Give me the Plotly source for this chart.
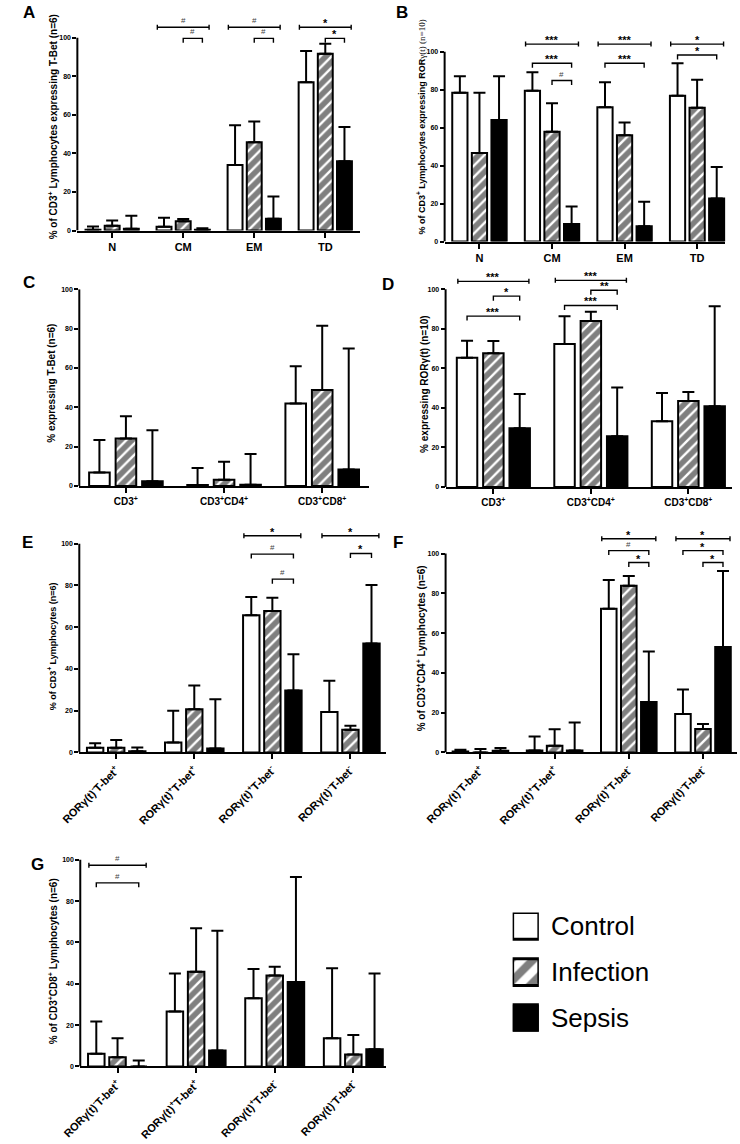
import plotly.graph_objects as go

W, H = 740, 1144
FONT = "Liberation Sans, Arial, sans-serif"

groups = ["Control", "Infection", "Sepsis"]

# ---------------- Panel A ----------------
a_categories = ["N", "CM", "EM", "TD"]
a_control = [0.5, 2.0, 34.0, 77.0]
a_control_top = [2.1, 6.7, 54.6, 93.1]
a_infection = [2.5, 4.8, 45.8, 91.7]
a_infection_top = [5.2, 6.0, 56.6, 96.9]
a_sepsis = [1.0, 0.5, 6.2, 36.0]
a_sepsis_top = [7.7, 1.2, 17.7, 53.7]
a_significance = [(1, 0, 2, "#", 105.5, "span"), (1, 1, 2, "#", 99.7, "pair"),
                  (2, 0, 2, "#", 105.5, "span"), (2, 1, 2, "#", 99.7, "pair"),
                  (3, 0, 2, "*", 105.5, "span"), (3, 1, 2, "*", 99.7, "pair")]
a_title = "<b>% of CD3<sup>+</sup> Lymphocytes expressing T-Bet (n=6)</b>"

# ---------------- Panel B ----------------
b_categories = ["N", "CM", "EM", "TD"]
b_control = [78.4, 79.4, 70.7, 76.8]
b_control_top = [87.1, 89.2, 83.9, 93.9]
b_infection = [46.6, 57.8, 56.0, 70.5]
b_infection_top = [78.4, 72.8, 62.7, 85.2]
b_sepsis = [64.0, 9.2, 8.0, 22.7]
b_sepsis_top = [87.1, 18.5, 20.9, 39.3]
b_significance = [(1, 0, 2, "***", 104.0, "span"), (1, 0, 2, "***", 93.9, "pair"),
                  (1, 1, 2, "#", 84.8, "pair"),
                  (2, 0, 2, "***", 104.0, "span"), (2, 0, 2, "***", 93.9, "pair"),
                  (3, 0, 2, "*", 104.0, "span"), (3, 0, 2, "*", 98.3, "pair")]
b_title = ("<b>% of CD3<sup>+</sup> Lymphocytes expressing ROR</b>"
           "<span style='font-family:Liberation Serif;font-weight:normal'>γ(t) (n=10)</span>")

# ---------------- Panel C ----------------
c_categories = ["CD3<sup>+</sup>", "CD3<sup>+</sup>CD4<sup>+</sup>", "CD3<sup>+</sup>CD8<sup>+</sup>"]
c_control = [6.9, 0.5, 41.9]
c_control_top = [23.4, 9.1, 60.9]
c_infection = [24.2, 3.2, 48.8]
c_infection_top = [35.5, 12.3, 81.5]
c_sepsis = [2.4, 0.7, 8.4]
c_sepsis_top = [28.3, 16.3, 69.9]
c_significance = []
c_title = "<b>% expressing T-Bet (n=6)</b>"

# ---------------- Panel D ----------------
d_categories = ["CD3<sup>+</sup>", "CD3<sup>+</sup>CD4<sup>+</sup>", "CD3<sup>+</sup>CD8<sup>+</sup>"]
d_control = [65.4, 72.3, 33.2]
d_control_top = [74.0, 86.4, 47.5]
d_infection = [67.6, 83.9, 43.5]
d_infection_top = [73.8, 88.6, 48.0]
d_sepsis = [29.7, 25.7, 40.9]
d_sepsis_top = [47.1, 50.3, 91.4]
d_significance = [(0, 0, 2, "***", 104.0, "span"), (0, 1, 2, "*", 96.5, "pair"),
                  (0, 0, 2, "***", 86.4, "pair"),
                  (1, 0, 2, "***", 104.5, "span"), (1, 1, 2, "**", 99.5, "pair"),
                  (1, 0, 2, "***", 91.8, "pair")]
d_title = "<b>% expressing RORγ(t) (n=10)</b>"

# ---------------- Panel E ----------------
efg_categories = ["RORγ(t)<sup>-</sup>T-bet<sup>+</sup>", "RORγ(t)<sup>+</sup>T-bet<sup>+</sup>",
                  "RORγ(t)<sup>+</sup>T-bet<sup>-</sup>", "RORγ(t)<sup>-</sup>T-bet<sup>-</sup>"]
e_control = [2.2, 4.7, 65.7, 19.3]
e_control_top = [4.4, 19.9, 74.5, 34.3]
e_infection = [2.2, 20.7, 67.7, 10.8]
e_infection_top = [5.9, 32.0, 74.1, 12.8]
e_sepsis = [0.6, 1.9, 29.7, 52.2]
e_sepsis_top = [2.4, 25.5, 47.0, 80.2]
e_significance = [(2, 0, 2, "*", 103.8, "span"), (2, 0, 2, "#", 95.0, "pair"),
                  (2, 1, 2, "#", 83.0, "pair"),
                  (3, 0, 2, "*", 103.8, "span"), (3, 1, 2, "*", 95.3, "pair")]
e_title = "<b>% of CD3<sup>+</sup> Lymphocytes (n=6)</b>"

# ---------------- Panel F ----------------
f_control = [0.5, 1.0, 72.3, 19.3]
f_control_top = [1.3, 8.0, 86.7, 31.7]
f_infection = [0.0, 3.3, 83.8, 11.8]
f_infection_top = [1.7, 11.7, 88.8, 14.3]
f_sepsis = [0.8, 1.0, 25.3, 53.0]
f_sepsis_top = [2.2, 15.0, 50.8, 91.2]
f_significance = [(2, 0, 2, "*", 107.5, "span"), (2, 0, 2, "#", 101.5, "pair"),
                  (2, 1, 2, "*", 95.5, "pair"),
                  (3, 0, 2, "*", 107.5, "span"), (3, 0, 2, "*", 101.5, "pair"),
                  (3, 1, 2, "*", 95.5, "pair")]
f_title = "<b>% of CD3<sup>+</sup>CD4<sup>+</sup> Lymphocytes (n=6)</b>"

# ---------------- Panel G ----------------
g_control = [6.1, 26.6, 33.0, 13.6]
g_control_top = [21.8, 45.0, 47.2, 47.5]
g_infection = [4.5, 45.8, 44.0, 5.8]
g_infection_top = [13.6, 66.9, 48.2, 15.2]
g_sepsis = [0.0, 7.7, 40.8, 8.3]
g_sepsis_top = [2.9, 65.6, 91.7, 45.0]
g_significance = [(0, 0, 2, "#", 97.3, "span"), (0, 0, 2, "#", 88.8, "pair")]
g_title = "<b>% of CD3<sup>+</sup>CD8<sup>+</sup> Lymphocytes (n=6)</b>"

y_ticks = [0, 20, 40, 60, 80, 100]

# ---------------- layout geometry (pixels) ----------------
panels = [
    dict(letter="A", letter_xy=(8, 9), cats=a_categories,
         vals=(a_control, a_infection, a_sepsis), tops=(a_control_top, a_infection_top, a_sepsis_top),
         sig=a_significance, title=a_title, title_xy=(33, 124), title_fs=10,
         left=58, right=349, y0=228, y100=34, xr=(-0.49, 3.49), ytop=114, angle=0, tfs=11),
    dict(letter="B", letter_xy=(392, 9), cats=b_categories,
         vals=(b_control, b_infection, b_sepsis), tops=(b_control_top, b_infection_top, b_sepsis_top),
         sig=b_significance, title=b_title, title_xy=(412, 124), title_fs=9,
         left=436, right=725, y0=239, y100=48, xr=(-0.48, 3.39), ytop=111, angle=0, tfs=11),
    dict(letter="C", letter_xy=(8, 280), cats=c_categories,
         vals=(c_control, c_infection, c_sepsis), tops=(c_control_top, c_infection_top, c_sepsis_top),
         sig=c_significance, title=c_title, title_xy=(32, 382), title_fs=10,
         left=60, right=358, y0=485, y100=287, xr=(-0.475, 2.475), ytop=100, angle=0, tfs=10),
    dict(letter="D", letter_xy=(378, 282), cats=d_categories,
         vals=(d_control, d_infection, d_sepsis), tops=(d_control_top, d_infection_top, d_sepsis_top),
         sig=d_significance, title=d_title, title_xy=(415, 382), title_fs=10,
         left=437, right=732, y0=486, y100=287, xr=(-0.49, 2.45), ytop=110, angle=0, tfs=10),
    dict(letter="E", letter_xy=(7, 542), cats=efg_categories,
         vals=(e_control, e_infection, e_sepsis), tops=(e_control_top, e_infection_top, e_sepsis_top),
         sig=e_significance, title=e_title, title_xy=(32, 646), title_fs=9,
         left=60, right=376, y0=753, y100=543, xr=(-0.473, 3.46), ytop=109, angle=-45, tfs=11),
    dict(letter="F", letter_xy=(388, 542), cats=efg_categories,
         vals=(f_control, f_infection, f_sepsis), tops=(f_control_top, f_infection_top, f_sepsis_top),
         sig=f_significance, title=f_title, title_xy=(412, 648), title_fs=10,
         left=437, right=737, y0=753, y100=553, xr=(-0.47, 3.46), ytop=112, angle=-45, tfs=11),
    dict(letter="G", letter_xy=(17, 866), cats=efg_categories,
         vals=(g_control, g_infection, g_sepsis), tops=(g_control_top, g_infection_top, g_sepsis_top),
         sig=g_significance, title=g_title, title_xy=(33, 963), title_fs=10,
         left=61, right=376, y0=1069, y100=861, xr=(-0.474, 3.42), ytop=101, angle=-45, tfs=11),
]

BAR_W = 0.21
BAR_OFF = 0.27

bar_styles = [
    dict(color="white", line=dict(color="black", width=2)),
    dict(color="white", line=dict(color="black", width=2),
         pattern=dict(shape="/", fgcolor="black", bgcolor="white", size=8, solidity=0.7)),
    dict(color="black", line=dict(color="black", width=2)),
]

fig = go.Figure()
layout = dict(width=W, height=H, margin=dict(l=0, r=0, t=0, b=0),
              paper_bgcolor="white", plot_bgcolor="rgba(0,0,0,0)",
              barmode="overlay", showlegend=False,
              font=dict(family=FONT, color="black"))
shapes = []
annotations = []


def px(x):
    return x / W


def py(y):
    return 1 - y / H


for n, p in enumerate(panels, start=1):
    xa = "x" if n == 1 else f"x{n}"
    ya = "y" if n == 1 else f"y{n}"
    xkey = "xaxis" if n == 1 else f"xaxis{n}"
    ykey = "yaxis" if n == 1 else f"yaxis{n}"
    ppu = (p["y0"] - p["y100"]) / 100.0
    top_px = p["y0"] - p["ytop"] * ppu
    xs = list(range(len(p["cats"])))

    for g in range(3):
        vals = p["vals"][g]
        tops = p["tops"][g]
        err = [t - v for t, v in zip(tops, vals)]
        fig.add_trace(go.Bar(
            x=xs, y=vals, xaxis=xa, yaxis=ya, name=groups[g],
            width=BAR_W, offset=(g - 1) * BAR_OFF - BAR_W / 2,
            marker=bar_styles[g],
            error_y=dict(type="data", symmetric=False, array=err, arrayminus=[0] * len(err),
                         color="black", thickness=2, width=6),
            showlegend=False, hoverinfo="skip"))

    layout[xkey] = dict(domain=[px(p["left"]), px(p["right"])], range=list(p["xr"]),
                        tickmode="array", tickvals=xs, ticktext=p["cats"],
                        ticks="outside", ticklen=5, tickwidth=2, tickcolor="black",
                        showline=True, linewidth=2, linecolor="black",
                        showgrid=False, zeroline=False, tickangle=p["angle"],
                        tickfont=dict(family=FONT, size=p["tfs"], color="black", weight="bold"),
                        anchor=ya, fixedrange=True)
    layout[ykey] = dict(domain=[py(p["y0"]), py(top_px)], range=[0, p["ytop"]],
                        tickmode="array", tickvals=y_ticks,
                        ticks="outside", ticklen=4, tickwidth=2, tickcolor="black",
                        showline=False, showgrid=False, zeroline=False,
                        tickfont=dict(family=FONT, size=7, color="black", weight="bold"),
                        anchor=xa, fixedrange=True)
    # y axis line only from 0 to 100
    shapes.append(dict(type="line", xref=f"{xa} domain", yref=ya, x0=0, x1=0, y0=0, y1=100,
                       line=dict(color="black", width=2)))

    # significance brackets
    for (ci, gi, gj, label, yl, kind) in p["sig"]:
        if kind == "span":
            x0 = ci - BAR_OFF - BAR_W * 0.45
            x1 = ci + BAR_OFF + BAR_W * 0.45
            d = 2.5 / ppu
            path = (f"M{x0},{yl - d}L{x0},{yl + d}M{x0},{yl}L{x1},{yl}"
                    f"M{x1},{yl - d}L{x1},{yl + d}")
        else:
            x0 = ci + (gi - 1) * BAR_OFF
            x1 = ci + (gj - 1) * BAR_OFF
            d = 4.5 / ppu
            path = f"M{x0},{yl - d}L{x0},{yl}L{x1},{yl}L{x1},{yl - d}"
        shapes.append(dict(type="path", xref=xa, yref=ya, path=path,
                           line=dict(color="black", width=1.4)))
        if label == "#":
            annotations.append(dict(x=(x0 + x1) / 2, y=yl, xref=xa, yref=ya, text=label,
                                    showarrow=False, yanchor="bottom", yshift=0,
                                    font=dict(family=FONT, size=8, color="#444444")))
        else:
            annotations.append(dict(x=(x0 + x1) / 2, y=yl, xref=xa, yref=ya, text=f"<b>{label}</b>",
                                    showarrow=False, yanchor="bottom", yshift=-4,
                                    font=dict(family=FONT, size=11, color="black")))

    # y axis title
    tx, ty = p["title_xy"]
    annotations.append(dict(x=px(tx), y=py(ty), xref="paper", yref="paper", text=p["title"],
                            textangle=-90, showarrow=False, xanchor="center", yanchor="middle",
                            font=dict(family=FONT, size=p["title_fs"], color="black")))
    # panel letter
    lx, ly = p["letter_xy"]
    annotations.append(dict(x=px(lx), y=py(ly), xref="paper", yref="paper",
                            text=f"<b>{p['letter']}</b>", showarrow=False,
                            xanchor="center", yanchor="middle",
                            font=dict(family=FONT, size=17, color="black")))

# ---------------- legend (drawn as its own tiny subplot) ----------------
LN = len(panels) + 1
lxa, lya = f"x{LN}", f"y{LN}"
leg_left, leg_right, leg_top, leg_bottom = 506, 533, 914, 1034
leg_pitch = 46.5
leg_size = 27
legend_styles = [
    dict(color="white", line=dict(color="black", width=3)),
    dict(color="white", line=dict(color="black", width=3),
         pattern=dict(shape="/", fgcolor="black", bgcolor="white", size=16, solidity=0.5)),
    dict(color="black", line=dict(color="black", width=3)),
]
for g, name in enumerate(groups):
    fig.add_trace(go.Bar(x=[0], y=[leg_size], base=[(len(groups) - 1 - g) * leg_pitch],
                         width=1, xaxis=lxa, yaxis=lya, marker=legend_styles[g],
                         showlegend=False, hoverinfo="skip", name=name))
    yc = leg_top + g * leg_pitch + leg_size / 2
    annotations.append(dict(x=px(543), y=py(yc), xref="paper", yref="paper", text=name,
                            showarrow=False, xanchor="left", yanchor="middle",
                            font=dict(family=FONT, size=26, color="black")))
layout[f"xaxis{LN}"] = dict(domain=[px(leg_left), px(leg_right)], range=[-0.5, 0.5],
                            visible=False, anchor=lya, fixedrange=True)
layout[f"yaxis{LN}"] = dict(domain=[py(leg_bottom), py(leg_top)],
                            range=[0, leg_bottom - leg_top],
                            visible=False, anchor=lxa, fixedrange=True)

layout["shapes"] = shapes
layout["annotations"] = annotations
fig.update_layout(**layout)

fig.write_html("out.html", config={"displayModeBar": False},
               post_script="document.body.style.margin='0px';document.body.style.overflow='hidden';")
